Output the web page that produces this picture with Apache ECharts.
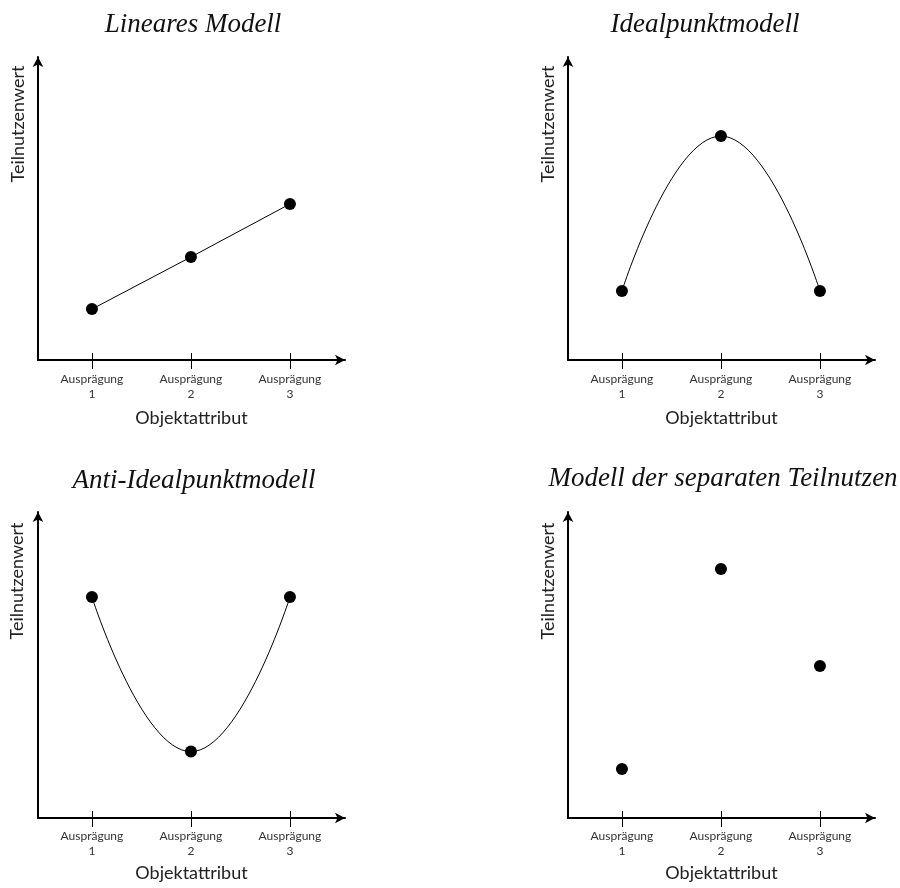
<!DOCTYPE html>
<html>
<head>
<meta charset="utf-8">
<script src="https://cdn.jsdelivr.net/npm/echarts@6/dist/echarts.min.js"></script>
<style>
  html, body { margin: 0; padding: 0; background: #fff; }
  #chart { width: 900px; height: 888px; }
</style>
</head>
<body>
<div id="chart"></div>
<script>
// ---- Data ----
const panelTitles = ['Lineares Modell', 'Idealpunktmodell', 'Anti-Idealpunktmodell', 'Modell der separaten Teilnutzen'];
const xLevels = [1, 2, 3];
const tickLabels = ['Ausprägung\n1', 'Ausprägung\n2', 'Ausprägung\n3'];
const xAxisName = 'Objektattribut';
const yAxisName = 'Teilnutzenwert';
const linearValues = [1.68, 3.40, 5.15];
const idealValues = [2.28, 7.39, 2.28];
const antiIdealValues = [7.22, 2.17, 7.22];
const separateValues = [1.60, 8.14, 4.97];

// ---- Layout ----
const grids = [
  { left: 38, top: 57, width: 307, height: 303 },
  { left: 568, top: 57, width: 307, height: 303 },
  { left: 38, top: 512, width: 307, height: 306 },
  { left: 568, top: 512, width: 307, height: 306 }
];
const titlePos = [[193, 25], [705, 25], [194, 481], [723, 479]];
const yNamePos = [[18, 124], [548, 124], [17, 581], [548, 581]];
const labelMargin = [12, 12, 11, 11];
const nameGap = [49, 49, 46, 46];

const labelFont = 'Lato, "Noto Sans", sans-serif';
const X_MIN = 0.455, X_MAX = 3.556;

const xAxes = [];
const yAxes = [];
grids.forEach((g, i) => {
  xAxes.push({
    gridIndex: i, type: 'value', position: 'bottom', min: X_MIN, max: X_MAX,
    axisLine: { show: true, onZero: false, lineStyle: { color: '#000', width: 2 },
                symbol: ['none', 'arrow'], symbolSize: [8, 10] },
    axisTick: { show: true, inside: false, length: 9, customValues: xLevels, lineStyle: { color: '#000', width: 1 } },
    axisLabel: {
      show: true, customValues: xLevels, margin: labelMargin[i],
      fontFamily: labelFont, fontSize: 12, color: '#333', lineHeight: 15, align: 'center',
      formatter: v => tickLabels[xLevels.indexOf(Math.round(v))] || ''
    },
    splitLine: { show: false },
    name: xAxisName, nameLocation: 'middle', nameGap: nameGap[i],
    nameTextStyle: { fontFamily: labelFont, fontSize: 18, color: '#222' }
  });
  // helper axis: tick parts above the x-axis line
  xAxes.push({
    gridIndex: i, type: 'value', position: 'top', offset: -g.height, min: X_MIN, max: X_MAX,
    axisLine: { show: false },
    axisTick: { show: true, inside: false, length: 7, customValues: xLevels, lineStyle: { color: '#000', width: 1 } },
    axisLabel: { show: false },
    splitLine: { show: false }
  });
  yAxes.push({
    gridIndex: i, type: 'value', min: 0, max: 10,
    axisLine: { show: true, onZero: false, lineStyle: { color: '#000', width: 2 },
                symbol: ['none', 'arrow'], symbolSize: [8, 10] },
    axisTick: { show: false }, axisLabel: { show: false }, splitLine: { show: false }
  });
});

function pts(vals) { return xLevels.map((x, k) => [x, vals[k]]); }

const markerStyle = { color: '#000', opacity: 1 };
const lineStyle = { color: '#000', width: 1 };

const series = [
  { type: 'line', xAxisIndex: 0, yAxisIndex: 0, data: pts(linearValues), smooth: false,
    symbol: 'circle', symbolSize: 12, itemStyle: markerStyle, lineStyle: lineStyle },
  { type: 'line', xAxisIndex: 2, yAxisIndex: 1, data: pts(idealValues), smooth: 0.5,
    symbol: 'circle', symbolSize: 12, itemStyle: markerStyle, lineStyle: lineStyle },
  { type: 'line', xAxisIndex: 4, yAxisIndex: 2, data: pts(antiIdealValues), smooth: 0.5,
    symbol: 'circle', symbolSize: 12, itemStyle: markerStyle, lineStyle: lineStyle },
  { type: 'scatter', xAxisIndex: 6, yAxisIndex: 3, data: pts(separateValues),
    symbol: 'circle', symbolSize: 12, itemStyle: markerStyle }
];

const graphics = [];
panelTitles.forEach((t, i) => {
  graphics.push({
    type: 'text', x: titlePos[i][0], y: titlePos[i][1],
    style: { text: t, fontFamily: '"Liberation Serif", "DejaVu Serif", serif', fontStyle: 'italic',
             fontSize: 27, fill: '#111', align: 'center', verticalAlign: 'middle' }
  });
  graphics.push({
    type: 'text', x: yNamePos[i][0], y: yNamePos[i][1], rotation: Math.PI / 2,
    style: { text: yAxisName, fontFamily: labelFont, fontSize: 18, fill: '#222',
             align: 'center', verticalAlign: 'middle' }
  });
});

const chart = echarts.init(document.getElementById('chart'), null, { renderer: 'canvas' });
chart.setOption({
  animation: false,
  backgroundColor: '#fff',
  grid: grids,
  xAxis: xAxes,
  yAxis: yAxes,
  series: series,
  graphic: graphics
});
</script>
</body>
</html>
